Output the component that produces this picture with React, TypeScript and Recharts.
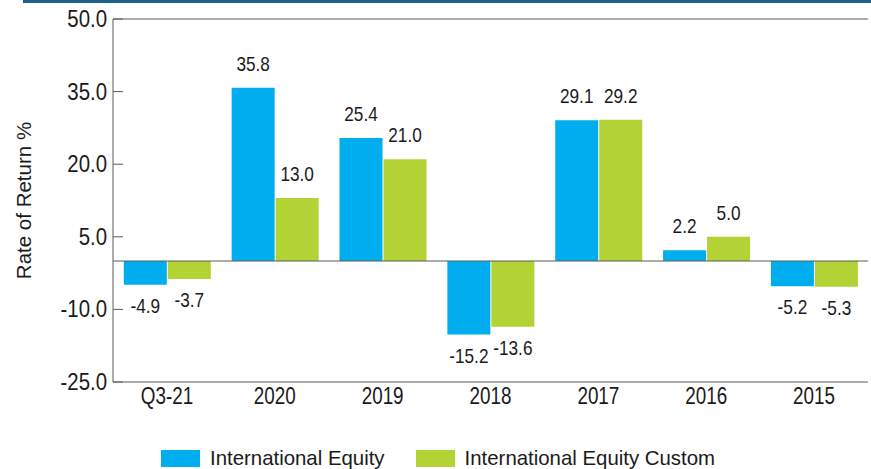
import React from "react";
import { BarChart, Bar, XAxis, YAxis, ReferenceLine, LabelList } from "recharts";

const categories = ["Q3-21", "2020", "2019", "2018", "2017", "2016", "2015"];
const intlEquity = [-4.9, 35.8, 25.4, -15.2, 29.1, 2.2, -5.2];
const intlEquityCustom = [-3.7, 13.0, 21.0, -13.6, 29.2, 5.0, -5.3];
const yTicks = [-25, -10, 5, 20, 35, 50];
const seriesNames = ["International Equity", "International Equity Custom"];

const BLUE = "#00aeef";
const GREEN = "#b3d235";
const AXIS = "#5a5a5a";
const TEXT = "#1a1a1a";
const SANS = '"Liberation Sans", Arial, sans-serif';

const data = categories.map((cat, i) => ({
  cat,
  intl: intlEquity[i],
  custom: intlEquityCustom[i],
}));

// the original numbers use a condensed face; squeeze regular sans horizontally
function NarrowText(props: any) {
  const { x, y, size, sx, anchor, baseline, children } = props;
  return (
    <text
      transform={`translate(${x},${y}) scale(${sx},1)`}
      textAnchor={anchor}
      dominantBaseline={baseline}
      fontFamily={SANS}
      fontSize={size}
      fill={TEXT}
    >
      {children}
    </text>
  );
}

function ValueLabel(props: any) {
  const { x, y, width, height, value } = props;
  const top = Math.min(y, y + height);
  const bottom = Math.max(y, y + height);
  const ty = value >= 0 ? top - 17 : bottom + 28;
  return (
    <NarrowText x={x + width / 2} y={ty} size={21} sx={0.82} anchor="middle">
      {Number(value).toFixed(1)}
    </NarrowText>
  );
}

function YTick(props: any) {
  const { x, y, payload } = props;
  const ax = x + 6;
  return (
    <g>
      <line x1={ax} x2={ax + 10} y1={y} y2={y} stroke={AXIS} />
      <NarrowText x={x} y={y} size={24} sx={0.85} anchor="end" baseline="central">
        {Number(payload.value).toFixed(1)}
      </NarrowText>
    </g>
  );
}

function XTick(props: any) {
  const { x, y, payload } = props;
  return (
    <NarrowText x={x} y={y + 17} size={23} sx={0.82} anchor="middle">
      {payload.value}
    </NarrowText>
  );
}

function YTitle(props: any) {
  const vb = props.viewBox || { x: 0, y: 19, width: 113, height: 363 };
  const cx = vb.x + 23;
  const cy = vb.y + vb.height / 2;
  return (
    <text
      x={cx}
      y={cy}
      transform={`rotate(-90, ${cx}, ${cy})`}
      textAnchor="middle"
      dominantBaseline="central"
      fontFamily={SANS}
      fontSize={20.5}
      fill={TEXT}
    >
      Rate of Return %
    </text>
  );
}

export default function App() {
  const colors = [BLUE, GREEN];
  return (
    <div style={{ position: "absolute", left: 0, top: 0, width: 871, height: 469 }}>
      <div
        style={{
          position: "absolute",
          left: 23,
          top: 0,
          width: 848,
          height: 3,
          background: "#1d5f8a",
        }}
      />
      <BarChart
        width={871}
        height={469}
        data={data}
        margin={{ top: 19, right: 3, bottom: 47, left: 0 }}
        barCategoryGap="10%"
        barGap={1}
      >
        <XAxis
          dataKey="cat"
          height={40}
          tickLine={false}
          tickSize={0}
          tickMargin={5}
          axisLine={{ stroke: AXIS }}
          tick={(p: any) => <XTick {...p} />}
        />
        <YAxis
          width={113}
          domain={[-25, 50]}
          ticks={yTicks}
          allowDataOverflow
          tickLine={false}
          tickSize={0}
          tickMargin={6}
          axisLine={{ stroke: AXIS }}
          tick={(p: any) => <YTick {...p} />}
          label={(p: any) => <YTitle {...p} />}
        />
        <ReferenceLine y={50} stroke={AXIS} />
        <ReferenceLine y={0} stroke={AXIS} />
        <Bar dataKey="intl" name={seriesNames[0]} fill={BLUE} isAnimationActive={false}>
          <LabelList dataKey="intl" content={(p: any) => <ValueLabel {...p} />} />
        </Bar>
        <Bar dataKey="custom" name={seriesNames[1]} fill={GREEN} isAnimationActive={false}>
          <LabelList dataKey="custom" content={(p: any) => <ValueLabel {...p} />} />
        </Bar>
      </BarChart>
      <div
        style={{
          position: "absolute",
          left: 161,
          top: 448,
          display: "flex",
          alignItems: "center",
          fontFamily: SANS,
          fontSize: 20.4,
          color: TEXT,
          lineHeight: "21px",
        }}
      >
        {seriesNames.map((name, i) => (
          <div
            key={name}
            style={{ display: "flex", alignItems: "center", marginRight: i === 0 ? 31 : 0 }}
          >
            <span
              style={{
                display: "inline-block",
                width: 39,
                height: 17,
                background: colors[i],
                marginRight: 10,
              }}
            />
            <span>{name}</span>
          </div>
        ))}
      </div>
    </div>
  );
}
